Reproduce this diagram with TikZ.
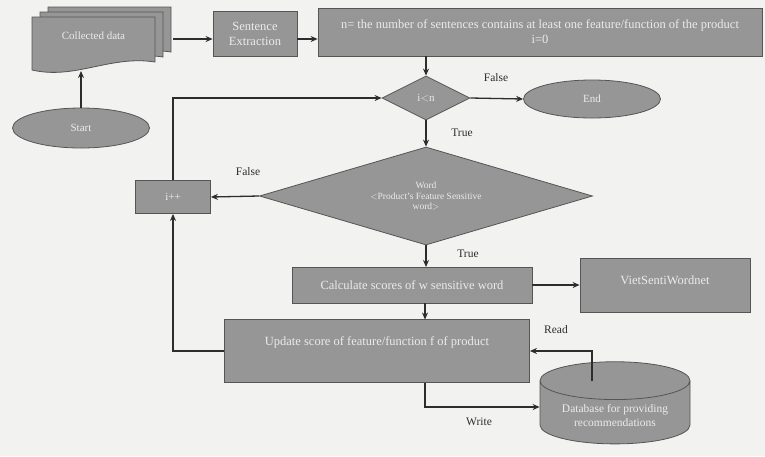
\documentclass[tikz,border=0pt]{standalone}
\usepackage{fontspec}
\setmainfont{Liberation Serif}
\usetikzlibrary{shapes.geometric,arrows.meta}
\definecolor{bg}{RGB}{242,242,240}
\definecolor{boxfill}{RGB}{150,150,150}
\definecolor{boxline}{RGB}{85,85,85}
\definecolor{ink}{RGB}{45,45,45}
\definecolor{txt}{RGB}{235,235,235}
\tikzset{
  base/.style={fill=boxfill, draw=boxline, line width=0.8pt, text=txt, font=\fontsize{12.5}{15}\selectfont, inner sep=1pt, align=center},
  procbox/.style={base, rectangle},
  oval/.style={base, ellipse},
  decide/.style={base, diamond},
  conn/.style={draw=ink, line width=1.3pt, -{Stealth[length=7pt,width=6pt]}},
  lbl/.style={text=ink, font=\fontsize{11.5}{13}\selectfont}
}
\begin{document}
\begin{tikzpicture}[x=1pt,y=-1pt]
\fill[bg] (0,0) rectangle (765,456);
\useasboundingbox (0,0) rectangle (765,456);
% multi-document
\foreach \dx/\dy in {16/-10, 8/-5, 0/0} {
  \filldraw[fill=boxfill, draw=boxline, line width=0.8pt]
    (32+\dx,17+\dy) -- (155+\dx,17+\dy) -- (155+\dx,62+\dy)
    .. controls (110+\dx,55+\dy) and (75+\dx,80+\dy) .. (32+\dx,70+\dy) -- cycle;
}
\node[text=txt, font=\fontsize{11}{13}\selectfont, minimum width=123pt, minimum height=38pt] (cd) at (93.5,36) {Collected data};
\coordinate (cdR) at (173,39);
\coordinate (cdB) at (81,71);
\node[procbox, minimum width=84pt, minimum height=45pt] (se) at (255,34) {Sentence\\Extraction};
\node[procbox, minimum width=444pt, minimum height=48pt] (init) at (540,32) {n= the number of sentences contains at least one feature/function of the product\\i=0};
\node[decide, minimum width=88pt, minimum height=44pt, aspect=2, font=\fontsize{11}{13}\selectfont] (cond) at (426,98) {i$<$n};
\node[oval, minimum width=137pt, minimum height=38pt, font=\fontsize{11}{13}\selectfont] (end) at (592,99) {End};
\node[oval, minimum width=137pt, minimum height=40pt, font=\fontsize{11}{13}\selectfont] (start) at (81,128) {Start};
\node[procbox, minimum width=75pt, minimum height=33pt, font=\fontsize{11}{13}\selectfont] (inc) at (173,197) {i++};
\node[decide, minimum width=333pt, minimum height=98pt, aspect=3.4, inner sep=0pt, font=\fontsize{9.5}{10.5}\selectfont] (word) at (426,196) {Word\\$<$Product's Feature Sensitive\\word$>$};
\node[procbox, minimum width=240pt, minimum height=36pt] (calc) at (412,285) {Calculate scores of w sensitive word};
\node[procbox, minimum width=170pt, minimum height=54pt, text depth=10pt] (viet) at (665,285) {VietSentiWordnet};
\node[procbox, minimum width=305pt, minimum height=63pt] (upd) at (377,351) {Update score of feature/function f of product\\ \strut};
\node[base, cylinder, shape border rotate=90, aspect=0.35, minimum width=150pt, minimum height=80pt, font=\fontsize{11.5}{14}\selectfont] (db) at (615,414) {\\[-2pt]Database for providing\\recommendations};
% connectors
\draw[conn] (start.north) -- (cdB);
\draw[conn] (cdR) -- (se.west |- cdR);
\draw[conn] (se.east |- cdR) -- (init.west |- cdR);
\draw[conn] (426,56) -- (cond.north);
\draw[conn] (cond.east) -- (end.west);
\draw[conn] (cond.south) -- (word.north);
\draw[conn] (word.west) -- (inc.east);
\draw[conn] (inc.north) |- (cond.west);
\draw[conn] (word.south) -- (426,267);
\draw[conn] (calc.east) -- (viet.west |- calc.east);
\draw[conn] (425,303) -- (425,319.5);
\draw[conn] (upd.west) -| (inc.south);
\draw[conn] (425,382.5) |- (db.west |- 0,407);
\draw[conn] (592,381) |- (upd.east);
% labels
\node[lbl] (lf1) at (496,78) {False};
\node[lbl] (lt1) at (462,133) {True};
\node[lbl] (lf2) at (248,172) {False};
\node[lbl] (lt2) at (468,254) {True};
\node[lbl] (lr) at (556,330) {Read};
\node[lbl] (lw) at (479,422) {Write};
\end{tikzpicture}
\end{document}
